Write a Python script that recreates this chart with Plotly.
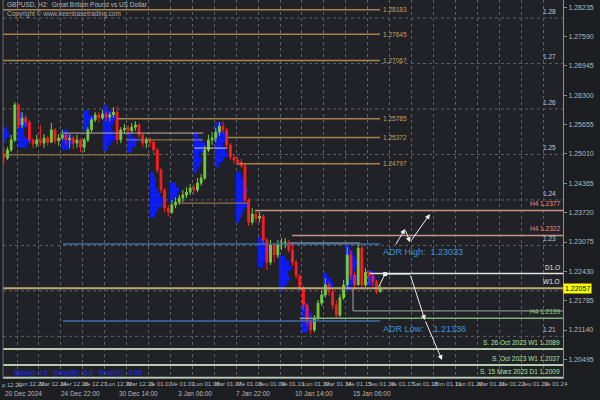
import plotly.graph_objects as go

# ---------------- data ----------------
day_labels = ["Lun 12.23", "Mar 12.24", "Mer 12.26", "Ve 12.27", "Lun 12.30", "Mar 12.31",
              "Je 01.02", "Ve 01.03", "Lun 01.06", "Mar 01.07", "Me 01.08", "Jeu 01.09",
              "Ve 01.10", "Lun 01.13", "Mar 01.14", "Me 01.15", "Jeu 01.16", "Ve 01.17",
              "Sat 01.18", "Dim 01.19", "Lun 01.20", "Mar 01.21", "Me 01.22", "Jeu 01.23", "Ve 01.24"]
date_labels = ["20 Dec 2024", "24 Dec 22:00", "30 Dec 14:00", "3 Jan 06:00",
               "7 Jan 22:00", "10 Jan 14:00", "15 Jan 06:00"]
date_pos = [-0.62, 1.92, 4.58, 7.25, 9.92, 12.58, 15.25]

first_open = 1.2499
close = [1.2492, 1.2510, 1.2532, 1.2609, 1.2565, 1.2580, 1.2571, 1.2532, 1.2523, 1.2532,
         1.2525, 1.2536, 1.2527, 1.2554, 1.2530, 1.2536, 1.2543, 1.2532, 1.2536, 1.2525,
         1.2532, 1.2516, 1.2532, 1.2554, 1.2576, 1.2587, 1.2580, 1.2589, 1.2582, 1.2587,
         1.2593, 1.2532, 1.2554, 1.2558, 1.2552, 1.2560, 1.2565, 1.2543, 1.2525, 1.2532,
         1.2527, 1.2510, 1.2466, 1.2422, 1.2382, 1.2373, 1.2389, 1.2395, 1.2404, 1.2411,
         1.2417, 1.2426, 1.2422, 1.2437, 1.2448, 1.2510, 1.2532, 1.2536, 1.2549, 1.2562,
         1.2554, 1.2521, 1.2494, 1.2488, 1.2483, 1.2475, 1.2400, 1.2351, 1.2369, 1.2360,
         1.2364, 1.2312, 1.2263, 1.2301, 1.2279, 1.2301, 1.2305, 1.2307, 1.2290, 1.2263,
         1.2233, 1.2206, 1.2169, 1.2132, 1.2114, 1.2140, 1.2173, 1.2191, 1.2213, 1.2198,
         1.2169, 1.2147, 1.2185, 1.2213, 1.2279, 1.2235, 1.2213, 1.2294, 1.2213, 1.2241,
         1.2233, 1.2220, 1.2198, 1.22057]
high = [1.2514, 1.2516, 1.2543, 1.2615, 1.2611, 1.2593, 1.2587, 1.2576, 1.2536, 1.2543,
        1.2565, 1.2545, 1.2541, 1.2569, 1.2558, 1.2545, 1.2554, 1.2549, 1.2545, 1.2541,
        1.2543, 1.2536, 1.2536, 1.2560, 1.2582, 1.2593, 1.2593, 1.2598, 1.2595, 1.2593,
        1.2604, 1.2606, 1.2560, 1.2567, 1.2565, 1.2569, 1.2573, 1.2569, 1.2547, 1.2538,
        1.2538, 1.2532, 1.2514, 1.2470, 1.2426, 1.2389, 1.2400, 1.2406, 1.2411, 1.2422,
        1.2428, 1.2435, 1.2435, 1.2448, 1.2457, 1.2519, 1.2543, 1.2549, 1.2558, 1.2571,
        1.2573, 1.2558, 1.2525, 1.2501, 1.2494, 1.2490, 1.2479, 1.2404, 1.2382, 1.2376,
        1.2373, 1.2369, 1.2316, 1.2312, 1.2305, 1.2312, 1.2316, 1.2316, 1.2312, 1.2307,
        1.2268, 1.2237, 1.2211, 1.2173, 1.2140, 1.2147, 1.2180, 1.2202, 1.2228, 1.2220,
        1.2206, 1.2180, 1.2193, 1.2224, 1.2296, 1.2290, 1.2241, 1.2303, 1.2303, 1.2250,
        1.2246, 1.2237, 1.2224, 1.2213]
low = [1.2481, 1.2488, 1.2505, 1.2527, 1.2558, 1.2558, 1.2562, 1.2525, 1.2514, 1.2516,
       1.2519, 1.2514, 1.2519, 1.2525, 1.2523, 1.2519, 1.2532, 1.2521, 1.2514, 1.2512,
       1.2514, 1.2505, 1.2505, 1.2527, 1.2549, 1.2571, 1.2571, 1.2576, 1.2573, 1.2573,
       1.2580, 1.2521, 1.2525, 1.2545, 1.2543, 1.2547, 1.2552, 1.2536, 1.2516, 1.2514,
       1.2516, 1.2499, 1.2459, 1.2415, 1.2373, 1.2364, 1.2369, 1.2382, 1.2389, 1.2395,
       1.2404, 1.2411, 1.2413, 1.2417, 1.2431, 1.2444, 1.2505, 1.2521, 1.2527, 1.2541,
       1.2547, 1.2514, 1.2488, 1.2479, 1.2475, 1.2470, 1.2393, 1.2343, 1.2345, 1.2351,
       1.2351, 1.2303, 1.2246, 1.2257, 1.2263, 1.2272, 1.2290, 1.2294, 1.2283, 1.2255,
       1.2226, 1.2200, 1.2158, 1.2123, 1.2105, 1.2109, 1.2136, 1.2167, 1.2185, 1.2189,
       1.2160, 1.2140, 1.2142, 1.2180, 1.2206, 1.2224, 1.2202, 1.2213, 1.2202, 1.2209,
       1.2215, 1.2209, 1.2193, 1.2198]
bar_start_day = -0.6
bars_per_day = 6

# session volume profiles (start day, top price bin, bin lengths in days)
vp_start = [-0.64, 0.05, 2.05, 3.01, 3.92, 5.02, 6.07, 6.98, 8.03, 9.03, 9.99,
            10.99, 11.95, 13.00, 13.96, 14.96, 16.01]
vp_top = [1.2554, 1.2587, 1.2549, 1.2591, 1.2602, 1.2543, 1.2455, 1.2433, 1.2543, 1.2565,
          1.2455, 1.2312, 1.2272, 1.2169, 1.2235, 1.2294, 1.2239]
vp_len = [[0.18, 0.27, 0.14],
          [0.23, 0.36, 0.41, 0.27, 0.27, 0.55, 0.41],
          [0.27, 0.46, 0.55, 0.36],
          [0.27, 0.46, 0.36, 0.23],
          [0.23, 0.41, 0.55, 0.46, 0.36, 0.46, 0.55, 0.36, 0.23],
          [0.23, 0.46, 0.41, 0.23],
          [0.18, 0.27, 0.23, 0.36, 0.46, 0.64, 0.55, 0.36, 0.23],
          [0.27, 0.41, 0.32, 0.18],
          [0.23, 0.41, 0.55, 0.46, 0.27, 0.41, 0.32, 0.18],
          [0.27, 0.41, 0.55, 0.46, 0.36, 0.46, 0.55, 0.36, 0.18],
          [0.23, 0.36, 0.46, 0.55, 0.41, 0.32, 0.55, 0.36, 0.27, 0.18],
          [0.23, 0.41, 0.55, 0.46, 0.36, 0.23],
          [0.27, 0.46, 0.55, 0.41, 0.50, 0.36, 0.23],
          [0.23, 0.36, 0.46, 0.55, 0.41, 0.27],
          [0.18, 0.36, 0.46, 0.27],
          [0.23, 0.36, 0.46, 0.55, 0.46, 0.36, 0.55, 0.46, 0.27],
          [0.23, 0.36, 0.27]]
vp_step = 0.0011

fib_levels = [1.28183, 1.27645, 1.27067, 1.25785, 1.25372, 1.24797]
fib_start = [-0.64, -0.64, -0.64, 4.6, 9.63, 10.08]
fib_end = 16.56

# other horizontal levels: price, start day, end day, colour, width
seg_price = [1.2499, 1.2547, 1.2532, 1.2514, 1.2393, 1.2305, 1.2156, 1.2238, 1.2206,
             1.2140, 1.2377, 1.2322, 1.23033, 1.21336, 1.2072, 1.2037, 1.2009]
seg_d0 = [-0.64, 2.1, 5.0, 8.1, 7.4, 12.45, 15.33, 16.1, -0.64,
          12.9, 10.86, 12.55, 2.1, 2.1, -0.64, -0.64, -0.64]
seg_d1 = [6.07, 8.5, 8.5, 9.6, 10.5, 15.65, 24.91, 24.91, 24.91,
          24.91, 24.91, 24.91, 16.56, 16.56, 24.91, 24.91, 24.91]
seg_color = ["#a8844c", "#c4a8a8", "#a8844c", "#d0d0d0", "#a8844c", "#d0d0d0", "#a0ae98",
             "#e4e4e4", "#bca874", "#7fae76", "#c89282", "#c89282", "#3f6ea6", "#3f6ea6",
             "#b4ccac", "#b4ccac", "#b4ccac"]
seg_width = [1, 1, 1, 1, 1, 1, 1, 1.5, 2, 1.5, 1.5, 1.5, 1.5, 1.5, 2, 2, 2]

level_text = ["H4 1.2377", "H4 1.2322", "D1.O", "W1.O", "H4 1.2139",
              "S. 26 Oct 2023 W1 1.2089", "S. Oct 2023 W1 1.2037", "S. 15 Marz 2023 D1 1.2009"]
level_y = [1.2377, 1.2322, 1.2238, 1.2206, 1.2140, 1.2072, 1.2037, 1.2009]
level_color = ["#e89088", "#e89088", "#e8e8e8", "#e8e8e8", "#86d074", "#a8e49c", "#a8e49c", "#a8e49c"]

grid_levels = [1.21, 1.22, 1.23, 1.24, 1.25, 1.26, 1.27, 1.28]
grid_text = ["1.21", "", "1.23", "1.24", "1.25", "1.26", "1.27", "1.28"]

right_ticks = [1.28235, 1.27590, 1.26945, 1.26300, 1.25655, 1.25010, 1.24365,
               1.23720, 1.23075, 1.22430, 1.21785, 1.21140, 1.20495]
last_price = 1.22057

adr_high = 1.23033
adr_low = 1.21336

proj_up_d = [17.24, 17.70, 17.93, 18.84]
proj_up_p = [1.2299, 1.2336, 1.2307, 1.2369]
proj_dn_d = [16.47, 16.79, 17.93, 18.61, 19.39]
proj_dn_p = [1.2206, 1.2237, 1.2237, 1.2136, 1.2048]

# ---------------- figure ----------------
X0, X1 = -0.639, 24.909
Y0, Y1 = 1.20085, 1.283955
FONT = "Liberation Sans"

n = len(close)
bar_x = [bar_start_day + i / bars_per_day for i in range(n)]
opens = [first_open] + close[:-1]

fig = go.Figure()

# volume profiles
vx, vy, vb = [], [], []
for s, top, lens in zip(vp_start, vp_top, vp_len):
    for j, L in enumerate(lens):
        vb.append(s)
        vx.append(L)
        vy.append(top - j * vp_step)
fig.add_trace(go.Bar(orientation="h", x=vx, y=vy, base=vb, width=vp_step,
                     marker=dict(color="#0c1cff", line=dict(width=0)),
                     hoverinfo="skip", showlegend=False))

fig.add_trace(go.Candlestick(x=bar_x, open=opens, high=high, low=low, close=close,
                             increasing=dict(line=dict(color="#74cc3c", width=1), fillcolor="#74cc3c"),
                             decreasing=dict(line=dict(color="#ff1c1c", width=1), fillcolor="#ff1c1c"),
                             whiskerwidth=0, showlegend=False))

shapes = []
for g in grid_levels:
    shapes.append(dict(type="line", xref="x", yref="y", x0=X0, x1=X1, y0=g, y1=g,
                       line=dict(color="#5c5f66", width=1, dash="dot"), layer="below"))
for lv, s in zip(fib_levels, fib_start):
    shapes.append(dict(type="line", xref="x", yref="y", x0=s, x1=fib_end, y0=lv, y1=lv,
                       line=dict(color="#a8844c", width=1.5), layer="above"))
for p, a, b, c, w in zip(seg_price, seg_d0, seg_d1, seg_color, seg_width):
    shapes.append(dict(type="line", xref="x", yref="y", x0=a, x1=b, y0=p, y1=p,
                       line=dict(color=c, width=w), layer="above"))
# box edge at session
shapes.append(dict(type="line", xref="x", yref="y", x0=seg_d0[6], x1=seg_d0[6],
                   y0=seg_price[6], y1=seg_price[8], line=dict(color="#a0ae98", width=1)))
shapes.append(dict(type="line", xref="paper", yref="paper", x0=0, x1=0, y0=0, y1=1,
                   line=dict(color="#6a6d72", width=1)))

ann = []
ann.append(dict(xref="paper", yref="paper", x=0.004, y=0.988, xanchor="left", yanchor="middle",
                text="GBPUSD, H2:  Great Britain Pound vs US Dollar", showarrow=False,
                font=dict(size=6.5, color="#b8b8b8", family=FONT)))
ann.append(dict(xref="paper", yref="paper", x=0.004, y=0.963, xanchor="left", yanchor="middle",
                text="Copyright © www.keenbasetrading.com", showarrow=False,
                font=dict(size=6.5, color="#a8a8a8", family=FONT)))
ann.append(dict(xref="paper", yref="paper", x=0.016, y=0.014, xanchor="left", yanchor="middle",
                text="Spread: 1.6   Swap(B): -6.5   Swap(S): -1.65", showarrow=False,
                font=dict(size=6.5, color="#2028ff", family=FONT)))
for lv in fib_levels:
    ann.append(dict(x=fib_end + 0.05, y=lv, xanchor="left", yanchor="middle",
                    text=f"{lv:.5f}", showarrow=False,
                    font=dict(size=6.5, color="#c8a060", family=FONT)))
for t, yv, c in zip(level_text, level_y, level_color):
    ann.append(dict(x=24.86, y=yv, xanchor="right", yanchor="bottom", yshift=1,
                    text=t, showarrow=False, font=dict(size=6.5, color=c, family=FONT)))
for g, t in zip(grid_levels, grid_text):
    if t:
        ann.append(dict(x=24.7, y=g, xanchor="right", yanchor="bottom", yshift=1,
                        text=t, showarrow=False, font=dict(size=6.5, color="#c8c8c8", family=FONT)))
ann.append(dict(x=16.6, y=adr_high, xanchor="left", yanchor="top", yshift=-1,
                text=f"ADR High:  {adr_high:.5f}", showarrow=False,
                font=dict(size=9, color="#3e92dc", family=FONT)))
ann.append(dict(x=16.6, y=adr_low, xanchor="left", yanchor="top", yshift=-1,
                text=f"ADR Low:    {adr_low:.5f}", showarrow=False,
                font=dict(size=9, color="#3e92dc", family=FONT)))
for a in range(len(proj_up_d) - 1):
    ann.append(dict(x=proj_up_d[a + 1], y=proj_up_p[a + 1], ax=proj_up_d[a], ay=proj_up_p[a],
                    xref="x", yref="y", axref="x", ayref="y", text="", showarrow=True,
                    arrowhead=2, arrowsize=1, arrowwidth=1, arrowcolor="#f0f0f0"))
for a in range(len(proj_dn_d) - 1):
    ann.append(dict(x=proj_dn_d[a + 1], y=proj_dn_p[a + 1], ax=proj_dn_d[a], ay=proj_dn_p[a],
                    xref="x", yref="y", axref="x", ayref="y", text="", showarrow=True,
                    arrowhead=2 if a >= 2 else 0, arrowsize=1, arrowwidth=1, arrowcolor="#f0f0f0"))
ann.append(dict(xref="paper", yref="y", x=1.0, y=last_price, xanchor="left", yanchor="middle",
                text=f"{last_price:.5f}", showarrow=False, bgcolor="#ffff00", borderpad=1,
                font=dict(size=7, color="#000000", family=FONT)))
for t, dpos in zip(date_labels, date_pos):
    ann.append(dict(x=dpos, xref="x", yref="paper", y=-0.04, xanchor="left", yanchor="middle",
                    text=t, showarrow=False, font=dict(size=6.5, color="#b8b8b8", family=FONT)))
ann.append(dict(xref="paper", yref="paper", x=-0.005, y=-0.019, xanchor="left", yanchor="middle",
                text="p 12.20", showarrow=False, font=dict(size=6, color="#b8b8b8", family=FONT)))

fig.add_trace(go.Scatter(x=[proj_dn_d[1]], y=[proj_dn_p[1]], mode="markers",
                         marker=dict(symbol="square", size=4, color="#f0f0f0"),
                         hoverinfo="skip", showlegend=False))

fig.update_layout(
    width=600, height=400,
    margin=dict(l=3, r=37, t=0, b=22),
    paper_bgcolor="#1c1e22", plot_bgcolor="#202227",
    shapes=shapes, annotations=ann, showlegend=False,
    barmode="overlay",
    xaxis=dict(range=[X0, X1], tickvals=list(range(len(day_labels))), ticktext=day_labels,
               tickangle=0, ticklabelposition="outside right", ticks="", showgrid=True,
               griddash="dot", gridcolor="#5c5f66", gridwidth=1, zeroline=False,
               showline=True, linecolor="#8a8d92", rangeslider=dict(visible=False),
               tickfont=dict(size=6, color="#b8b8b8", family=FONT), fixedrange=True),
    yaxis=dict(range=[Y0, Y1], side="right", tickvals=right_ticks,
               ticktext=[f"{v:.5f}" for v in right_ticks], ticks="outside", ticklen=3,
               tickcolor="#8a8d92", showgrid=False, zeroline=False, showline=True,
               linecolor="#8a8d92", tickfont=dict(size=7, color="#b8b8b8", family=FONT)),
)

fig.write_html("out.html", config={"displayModeBar": False},
               post_script="document.body.style.margin='0px';document.body.style.background='#1c1e22';")
